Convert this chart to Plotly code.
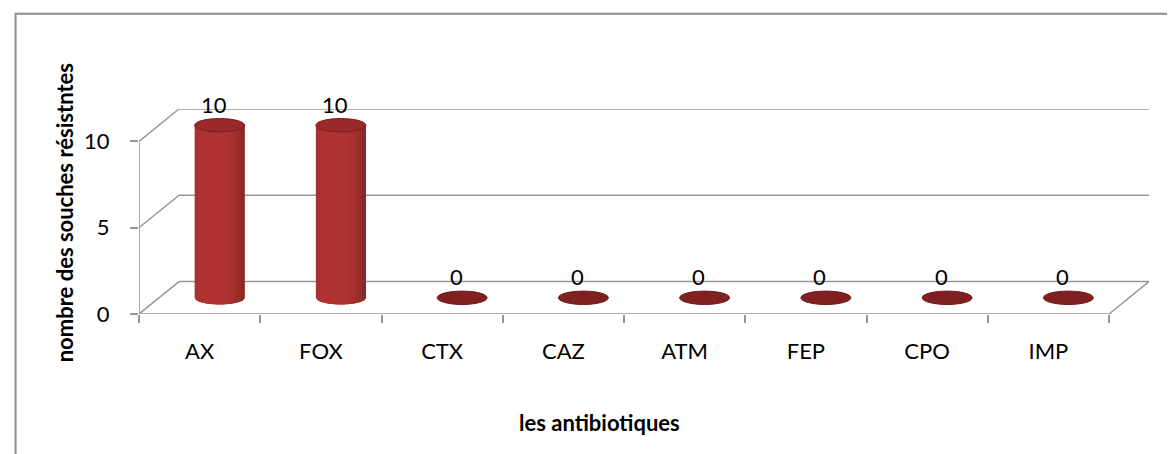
import math
import plotly.graph_objects as go

# Données du graphique
categories = ["AX", "FOX", "CTX", "CAZ", "ATM", "FEP", "CPO", "IMP"]
values = [10, 10, 0, 0, 0, 0, 0, 0]
y_ticks = [0, 5, 10]

W, H = 1175, 454
L, R, T, B = 130.5, 1141, 100.5, 306   # zone de tracé (pixels)
PX_CAT = 121.3                          # pixels par catégorie
PX_Y = (B - 133) / 10                   # pixels par unité en y
DX = 40 / PX_CAT                        # profondeur 3D en x
DY = 32.5 / PX_Y                        # profondeur 3D en y
Y_TOP = 10 + DY
GRID = "rgb(150,150,150)"
FONT = "Lato"

RX = 25 / PX_CAT                        # rayon horizontal des cylindres
RY = 6.7 / PX_Y                         # rayon vertical des ellipses


def px_x(p):
    return (p - L) / (R - L)


def px_y(p):
    return (B - p) / (B - T)


def shade(t, r=178, g=52, b=50):
    # t dans [-1, 1] : bord gauche -> bord droit du cylindre
    k = 0.66 + 0.34 * math.sqrt(max(0.0, 1 - ((t + 0.25) / 1.25) ** 2))
    return "rgb(%d,%d,%d)" % (r * k, g * k, b * k)


fig = go.Figure()
shapes = []

# Parois : quadrillage du mur du fond et du côté gauche
for v in y_ticks:
    shapes.append(dict(type="line", xref="x", yref="y", x0=-0.5 + DX, x1=7.5 + DX,
                       y0=v + DY, y1=v + DY, line=dict(color=GRID, width=1.5), layer="below"))
    shapes.append(dict(type="line", xref="x", yref="y", x0=-0.5, x1=-0.5 + DX,
                       y0=v, y1=v + DY, line=dict(color=GRID, width=1.5), layer="below"))
# Sol
shapes.append(dict(type="line", xref="x", yref="y", x0=-0.5, x1=7.5, y0=0, y1=0,
                   line=dict(color=GRID, width=1.5), layer="below"))
shapes.append(dict(type="line", xref="x", yref="y", x0=7.5, x1=7.5 + DX, y0=0, y1=DY,
                   line=dict(color=GRID, width=1.5), layer="below"))
# Axe vertical avant
shapes.append(dict(type="line", xref="x", yref="y", x0=-0.5, x1=-0.5, y0=0, y1=10,
                   line=dict(color=GRID, width=1.5), layer="below"))

# Cylindres (bandes verticales qui se recouvrent pour un dégradé sans joints)
N = 14
for i, v in enumerate(values):
    cx = i + DX / 2
    base = DY / 2
    if v > 0:
        step = 2 * RX / N
        for k in range(N):
            xa = cx - RX + step * k
            xb = min(cx + RX, xa + 2 * step) if k < N - 1 else cx + RX
            pts = []
            m = 6
            for j in range(m + 1):
                x = xa + (xb - xa) * j / m
                pts.append((x, base - RY * math.sqrt(max(0.0, 1 - ((x - cx) / RX) ** 2))))
            path = "M %f,%f L %f,%f " % (xa, base + v, pts[0][0], pts[0][1])
            path += " ".join("L %f,%f" % p for p in pts[1:])
            path += " L %f,%f Z" % (xb, base + v)
            t = (xa + step / 2 - cx) / RX
            shapes.append(dict(type="path", xref="x", yref="y", path=path,
                               fillcolor=shade(t), line=dict(width=0)))
        shapes.append(dict(type="circle", xref="x", yref="y",
                           x0=cx - RX, x1=cx + RX, y0=base + v - RY, y1=base + v + RY,
                           fillcolor="rgb(154,42,42)", line=dict(color="rgb(118,30,30)", width=1)))
    else:
        shapes.append(dict(type="circle", xref="x", yref="y",
                           x0=cx - RX, x1=cx + RX, y0=base - RY, y1=base + RY,
                           fillcolor="rgb(128,32,32)", line=dict(color="rgb(108,26,26)", width=1)))

# Cadre du graphique
shapes.append(dict(type="rect", xref="paper", yref="paper", x0=px_x(7), x1=1.2,
                   y0=-1.5, y1=px_y(5), line=dict(color="rgb(140,140,140)", width=2)))

# Trace invisible pour porter les axes
fig.add_trace(go.Scatter(x=list(range(len(categories))), y=values, mode="markers",
                         marker=dict(opacity=0), hoverinfo="skip", showlegend=False))

annotations = []
for i, v in enumerate(values):
    annotations.append(dict(x=i + DX / 2, y=v + DY / 2, xref="x", yref="y", text=str(v),
                            showarrow=False, xshift=-6, yshift=21,
                            font=dict(family=FONT, size=22, color="black")))

annotations.append(dict(x=px_x(591), y=px_y(430), xref="paper", yref="paper",
                        text="<b>les antibiotiques</b>", showarrow=False,
                        font=dict(family=FONT, size=22, color="black")))
annotations.append(dict(x=px_x(40), y=px_y(205), xref="paper", yref="paper",
                        text="<b>nombre des souches résistntes</b>", textangle=-90,
                        showarrow=False, font=dict(family=FONT, size=22, color="black")))

fig.update_layout(
    width=W, height=H,
    margin=dict(l=L, r=W - R, t=T, b=H - B),
    paper_bgcolor="white", plot_bgcolor="white",
    shapes=shapes, annotations=annotations,
    xaxis=dict(range=[-0.5, 7.5 + DX], tickvals=list(range(len(categories))),
               ticktext=categories, ticks="", showgrid=False, zeroline=False,
               showline=False, ticklabelstandoff=22,
               tickfont=dict(family=FONT, size=22, color="black"),
               minor=dict(tick0=-0.5, dtick=1, ticks="outside", ticklen=8,
                          tickcolor=GRID, tickwidth=1.5)),
    yaxis=dict(range=[0, Y_TOP], tickvals=y_ticks, ticks="outside", ticklen=8,
               tickcolor=GRID, tickwidth=1.5, showgrid=False, zeroline=False,
               showline=False, ticklabelstandoff=16,
               tickfont=dict(family=FONT, size=22, color="black")),
)

fig.write_html("out.html")
